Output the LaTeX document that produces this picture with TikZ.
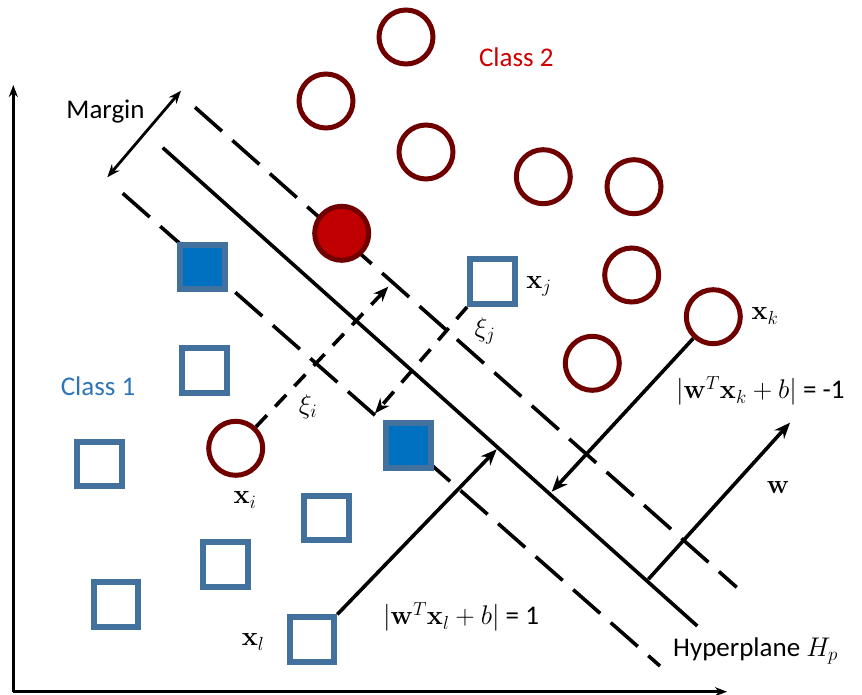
\RequirePackage{fix-cm}
\documentclass[tikz,border=0pt]{standalone}
\usepackage[no-math]{fontspec}
\setmainfont{Carlito}
\usetikzlibrary{arrows.meta}
\definecolor{circdark}{RGB}{112,0,0}
\definecolor{circred}{RGB}{192,0,0}
\definecolor{sqline}{RGB}{65,113,156}
\definecolor{sqfill}{RGB}{0,112,192}
\definecolor{ctwotext}{RGB}{204,0,0}
\definecolor{conetext}{RGB}{46,117,182}
\tikzset{
  circpt/.style={circle, draw=circdark, line width=5pt, fill=white, minimum size=54pt, inner sep=0pt},
  circfilled/.style={circpt, fill=circred},
  sqpt/.style={rectangle, draw=sqline, line width=6pt, fill=white, minimum size=44.5pt, inner sep=0pt},
  sqfilled/.style={sqpt, fill=sqfill},
  mainline/.style={line width=3.6pt, black},
  maindash/.style={mainline, dash pattern=on 36pt off 14pt},
  slackdash/.style={line width=3.6pt, black, dash pattern=on 16pt off 12pt, -{Stealth[length=15pt,width=12pt]}},
  arrowline/.style={line width=3.6pt, black, -{Stealth[length=16pt,width=13pt]}},
  axisline/.style={line width=3pt, black, -{Stealth[length=12pt,width=9pt]}},
  lbl/.style={inner sep=0pt},
}
\begin{document}
\begin{tikzpicture}[x=1pt,y=-1pt, font=\fontsize{27}{32}\selectfont]
\useasboundingbox (0,0) rectangle (862,695);

% axes
\coordinate (origin) at (13.3,691.7);
\coordinate (ytop) at (13.3,85);
\coordinate (xend) at (727,691.7);
\draw[axisline] (origin) -- (ytop);
\draw[axisline] (origin) -- (xend);

% margin lines and hyperplane
\coordinate (ua) at (195,107.3);
\coordinate (ub) at (736.7,587.3);
\coordinate (ha) at (162.7,147.7);
\coordinate (hb) at (697.3,626);
\coordinate (la) at (122.7,193.3);
\coordinate (lb) at (660,666);
\draw[maindash] (ua) -- (ub);
\draw[mainline] (ha) -- (hb);
\draw[maindash] (la) -- (lb);

% margin arrow
\coordinate (ma) at (107.3,177.3);
\coordinate (mb) at (181,90.7);
\draw[line width=2.8pt, {Stealth[length=13pt,width=10pt]}-{Stealth[length=13pt,width=10pt]}] (ma) -- (mb);

% class 2 circles
\node[circpt] (c1) at (406,37) {};
\node[circpt] (c2) at (326,101) {};
\node[circpt] (c3) at (426,152) {};
\node[circpt] (c4) at (543.3,176.7) {};
\node[circpt] (c5) at (634,186.7) {};
\node[circpt] (c6) at (631.7,275) {};
\node[circpt] (c7) at (592.3,363.3) {};
\node[circpt] (ck) at (713.3,316.7) {};
\node[circpt] (ci) at (235.7,448.3) {};
\node[circfilled] (cr) at (341.7,233.3) {};

% class 1 squares
\node[sqfilled] (s1) at (202.5,267.2) {};
\node[sqpt] (s2) at (204.5,370.3) {};
\node[sqpt] (s3) at (99.5,464) {};
\node[sqpt] (s4) at (326.7,517.8) {};
\node[sqpt] (s5) at (225.3,564.7) {};
\node[sqpt] (s6) at (115.8,604.7) {};
\node[sqpt] (sl) at (312,639.7) {};
\node[sqpt] (sj) at (492.3,281.7) {};
\node[sqfilled] (s9) at (408.3,445.7) {};

% slack arrows
\coordinate (xiend) at (388.3,286.7);
\coordinate (xjend) at (375,413.3);
\draw[slackdash] (ci) -- (xiend);
\draw[slackdash] (sj.south west) -- (xjend);

% distance arrows
\coordinate (lend) at (496.7,449.3);
\coordinate (kend) at (551.7,491.7);
\draw[arrowline] (sl.north east) -- (lend);
\draw[arrowline] (ck) -- (kend);

% w vector
\coordinate (wa) at (648.3,579.3);
\coordinate (wb) at (790,422.7);
\draw[arrowline] (wa) -- (wb);

% labels
\node[lbl] (lmargin) at (105.5,111.7) {Margin};
\node[lbl, text=ctwotext] (lclass2) at (516.3,57.3) {Class 2};
\node[lbl, text=conetext] (lclass1) at (98,386) {Class 1};
\node[lbl] (lxj) at (539,286) {$\mathbf{x}_j$};
\node[lbl] (lxi) at (245,500) {$\mathbf{x}_i$};
\node[lbl] (lxl) at (253,642) {$\mathbf{x}_l$};
\node[lbl] (lxk) at (765,316) {$\mathbf{x}_k$};
\node[lbl] (lw) at (778,487) {$\mathbf{w}$};
\node[lbl] (lxii) at (308,407) {$\xi_i$};
\node[lbl] (lxij) at (485,331) {$\xi_j$};
\node[lbl, anchor=west] (eqk) at (676,391) {$|\mathbf{w}^T\mathbf{x}_k+b|$ = -1};
\node[lbl, anchor=west] (eql) at (383,617) {$|\mathbf{w}^T\mathbf{x}_l+b|$ = 1};
\node[lbl, anchor=west] (hyp) at (673,651) {Hyperplane $H_p$};
\end{tikzpicture}
\end{document}
